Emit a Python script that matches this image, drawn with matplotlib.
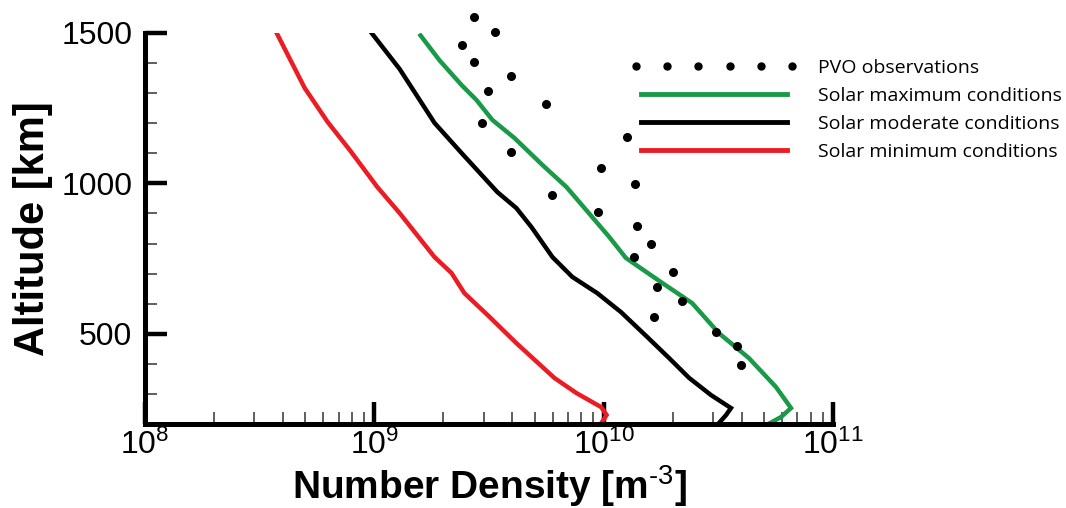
import numpy as np
import matplotlib
matplotlib.use("Agg")
import matplotlib.pyplot as plt
from matplotlib.lines import Line2D
from matplotlib.legend_handler import HandlerLine2D
from matplotlib.ticker import LogLocator, FixedLocator, MultipleLocator, NullFormatter

# ---------------- data ----------------
min_density = [3.75e8, 4.97e8, 6.26e8, 7.81e8, 1.03e9, 1.29e9, 1.83e9, 2.17e9, 2.47e9,
               3.18e9, 4.16e9, 6.10e9, 7.60e9, 9.76e9, 1.03e10, 9.77e9]
min_alt = [1500, 1317, 1204, 1111, 988, 901, 755, 702, 635, 556, 469, 353, 303, 256, 230, 203]

mod_density = [9.73e8, 1.29e9, 1.83e9, 2.40e9, 3.44e9, 4.16e9, 4.84e9, 5.98e9, 7.30e9,
               9.38e9, 1.19e10, 1.55e10, 1.93e10, 2.36e10, 2.94e10, 3.59e10, 3.42e10, 3.18e10]
mod_alt = [1500, 1380, 1201, 1101, 971, 918, 855, 755, 689, 635, 572, 489, 419, 353, 296,
           253, 230, 203]

max_density = [1.59e9, 1.92e9, 2.40e9, 2.79e9, 3.27e9, 4.08e9, 5.41e9, 6.88e9, 8.40e9,
               1.057e10, 1.25e10, 1.80e10, 2.43e10, 3.18e10, 4.30e10, 5.64e10, 6.56e10,
               5.93e10, 5.11e10]
max_alt = [1492, 1410, 1327, 1277, 1211, 1151, 1061, 988, 911, 822, 752, 669, 602, 502, 419,
           323, 253, 223, 196]

pvo_density = [2.73e9, 3.37e9, 2.40e9, 2.73e9, 3.96e9, 3.14e9, 5.62e9, 2.96e9, 1.27e10,
               3.96e9, 9.76e9, 1.37e10, 5.98e9, 9.47e9, 1.40e10, 1.61e10, 1.36e10, 2.01e10,
               1.71e10, 2.20e10, 1.66e10, 3.09e10, 3.82e10, 3.97e10]
pvo_alt = [1553, 1503, 1460, 1404, 1357, 1307, 1264, 1201, 1154, 1104, 1051, 998, 961, 905,
           858, 798, 755, 705, 655, 609, 556, 506, 459, 396]

labels = ["PVO observations", "Solar maximum conditions",
          "Solar moderate conditions", "Solar minimum conditions"]
x_ticks = [1e8, 1e9, 1e10, 1e11]
x_tick_labels = [r"$10^{8}$", r"$10^{9}$", r"$10^{10}$", r"$10^{11}$"]
y_ticks = [500, 1000, 1500]

# ---------------- style ----------------
plt.rcParams['font.family'] = ['Liberation Sans', 'DejaVu Sans']
plt.rcParams['mathtext.fontset'] = 'custom'
plt.rcParams['mathtext.rm'] = 'Liberation Sans'
plt.rcParams['mathtext.it'] = 'Liberation Sans:italic'
plt.rcParams['mathtext.bf'] = 'Liberation Sans:bold'

GREEN = '#1a9a48'
RED = '#ec1c24'

fig = plt.figure(figsize=(10.66, 5.08), dpi=100)
ax = fig.add_axes([145/1066, 1 - 424/508, (833-145)/1066, (424-33)/508])

lw = 3.2
ax.plot(pvo_density, pvo_alt, linestyle='none', marker='o', markersize=5.5,
        color='black', clip_on=False, zorder=3)
ax.plot(max_density, max_alt, color=GREEN, lw=lw, solid_joinstyle='miter')
ax.plot(mod_density, mod_alt, color='black', lw=lw, solid_joinstyle='miter')
ax.plot(min_density, min_alt, color=RED, lw=lw, solid_joinstyle='miter')

ax.set_xscale('log')
ax.set_xlim(1e8, 1e11)
ax.set_ylim(200, 1500)

for s in ['top', 'right']:
    ax.spines[s].set_visible(False)
for s in ['left', 'bottom']:
    ax.spines[s].set_linewidth(3.6)
    ax.spines[s].set_capstyle('projecting')

ax.xaxis.set_major_locator(FixedLocator(x_ticks))
ax.set_xticklabels(x_tick_labels)
ax.xaxis.set_minor_locator(LogLocator(base=10, subs=np.arange(2, 10)))
ax.xaxis.set_minor_formatter(NullFormatter())
ax.yaxis.set_major_locator(FixedLocator(y_ticks))
ax.yaxis.set_minor_locator(MultipleLocator(100))

ax.tick_params(axis='both', which='major', direction='in', length=16, width=3.2,
               labelsize=23, color='black')
ax.tick_params(axis='both', which='minor', direction='in', length=8.5, width=1.1,
               color='#333333')
ax.tick_params(axis='y', which='major', pad=9)
ax.tick_params(axis='x', which='major', pad=4)

ax.set_xlabel(r"Number Density [m$^{\text{-3}}$]", fontsize=28, fontweight='bold',
              labelpad=2)
ax.set_ylabel("Altitude [km]", fontsize=30, fontweight='bold', labelpad=6)

pvo_handle = Line2D([], [], linestyle='none', marker='o', markersize=5, color='black')
handles = [
    pvo_handle,
    Line2D([], [], color=GREEN, lw=3.5),
    Line2D([], [], color='black', lw=3.5),
    Line2D([], [], color=RED, lw=3.5),
]
leg = fig.legend(handles, labels, loc='upper left', bbox_to_anchor=(627/1066, 1 - 51/508),
                 frameon=False, numpoints=6, handlelength=8.15, handletextpad=1.25,
                 labelspacing=0.52, borderaxespad=0,
                 handler_map={pvo_handle: HandlerLine2D(marker_pad=0.05, numpoints=6)},
                 prop={'family': 'Open Sans', 'size': 14})

fig.savefig('out.png', dpi=100)
